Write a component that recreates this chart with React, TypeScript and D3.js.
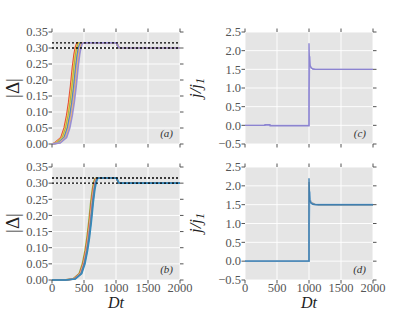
import React, { useEffect } from 'react';
import * as d3 from 'd3';

const W = 415;
const H = 312;

const xTicks = [0, 500, 1000, 1500, 2000];
const gapTicks = [0, 0.05, 0.1, 0.15, 0.2, 0.25, 0.3, 0.35];
const currentTicks = [-0.5, 0, 0.5, 1.0, 1.5, 2.0, 2.5];
const gapLevels = [0.3, 0.316];

// |Δ| rise, read around each curve's midpoint (Dt offset, value)
const riseDt = [-400, -250, -150, -100, -60, -30, 0, 30, 55, 75, 95, 115];
const riseVal = [0, 0.003, 0.02, 0.05, 0.09, 0.13, 0.18, 0.24, 0.28, 0.302, 0.313, 0.316];
// plateau end and drop to the lower level
const tailDt = [1000, 1015, 1030, 1045, 1060, 2000];
const tailVal = [0.316, 0.313, 0.306, 0.301, 0.3, 0.3];

// midpoints of the ensemble curves
const midsA = [290, 305, 318, 330, 342, 354, 366, 378];
const colorsA = ['#E24A33', '#FBC15E', '#8EBA42', '#FBC15E', '#348ABD', '#988ED5', '#FBC15E', '#988ED5'];
const midsB = [575, 585, 593, 600, 607, 615];
const colorsB = ['#8EBA42', '#E24A33', '#FBC15E', '#988ED5', '#777777', '#348ABD'];

// j/j1 curves
const jMainDt = [0, 310, 312, 390, 392, 1000, 1000, 1003, 1007, 1012, 1020, 1035, 1060, 1100, 1200, 2000];
const jMainVal = [0, 0, 0.02, 0.02, -0.01, -0.01, 2.2, 1.95, 1.75, 1.64, 1.58, 1.54, 1.51, 1.5, 1.5, 1.5];
const jFlatVal = [0, 0, 0, 0, 0, 0, 2.2, 1.95, 1.75, 1.64, 1.58, 1.54, 1.51, 1.5, 1.5, 1.5];
const jSecDt = [0, 1000, 1002, 1010, 1014, 1020, 1035, 1060, 1100, 2000];
const jSecVal = [0, 0, 0.85, 1.6, 1.85, 1.6, 1.54, 1.51, 1.5, 1.5];
const jGrayDt = [0, 1000, 1001, 1010, 1030, 1100, 1150, 2000];
const jGrayVal = [0, 0, 2.1, 1.7, 1.56, 1.51, 1.48, 1.48];

type Pt = [number, number];

const zip = (a: number[], b: number[]): Pt[] => a.map((v, i) => [v, b[i]]);

const gapCurve = (mid: number): Pt[] => {
  const rise = zip(riseDt.map((d) => d + mid), riseVal).filter((p) => p[0] > 0);
  return [[0, 0] as Pt, ...rise, ...zip(tailDt, tailVal)];
};

const serif = "'Liberation Serif', serif";
const tickColor = '#555555';

type Curve = { pts: Pt[]; color: string; width?: number; opacity?: number };

type PanelProps = {
  x0: number;
  x1: number;
  y0: number;
  y1: number;
  yDomain: [number, number];
  yTicks: number[];
  fmt: (v: number) => string;
  xLabels: boolean;
  tag: string;
  curves: Curve[];
  dotted?: number[];
};

const Panel = ({ x0, x1, y0, y1, yDomain, yTicks, fmt, xLabels, tag, curves, dotted }: PanelProps) => {
  const x = d3.scaleLinear().domain([0, 2000]).range([x0, x1]);
  const y = d3.scaleLinear().domain(yDomain).range([y1, y0]);
  const line = d3
    .line<Pt>()
    .x((d) => x(d[0]))
    .y((d) => y(d[1]));
  const tl = 3.5;
  const txt = { fontFamily: serif, fill: tickColor, fontSize: '12.5px' };
  return (
    <g>
      <rect x={x0} y={y0} width={x1 - x0} height={y1 - y0} fill="#E5E5E5" />
      {xTicks.map((t) => (
        <line key={'gx' + t} x1={x(t)} x2={x(t)} y1={y0} y2={y1} stroke="#fff" strokeWidth={0.9} />
      ))}
      {yTicks.map((t) => (
        <line key={'gy' + t} x1={x0} x2={x1} y1={y(t)} y2={y(t)} stroke="#fff" strokeWidth={0.9} />
      ))}
      <clipPath id={`clip-${tag}`}>
        <rect x={x0} y={y0 - 1} width={x1 - x0} height={y1 - y0 + 2} />
      </clipPath>
      <g clipPath={`url(#clip-${tag})`}>
        {curves.map((c, i) => (
          <path
            key={i}
            d={line(c.pts) || ''}
            fill="none"
            stroke={c.color}
            strokeWidth={c.width ?? 1.6}
            strokeOpacity={c.opacity ?? 1}
          />
        ))}
      </g>
      {(dotted || []).map((v) => (
        <line
          key={'d' + v}
          x1={x0}
          x2={x1}
          y1={y(v)}
          y2={y(v)}
          stroke="#000"
          strokeWidth={1.3}
          strokeDasharray="2,2"
        />
      ))}
      {xTicks.map((t) => (
        <g key={'tx' + t}>
          <line x1={x(t)} x2={x(t)} y1={y0} y2={y0 - tl} stroke={tickColor} />
          <line x1={x(t)} x2={x(t)} y1={y1} y2={y1 + tl} stroke={tickColor} />
          {xLabels && (
            <text x={x(t)} y={y1 + 11.5} textAnchor="middle" style={txt}>
              {t}
            </text>
          )}
        </g>
      ))}
      {yTicks.map((t) => (
        <g key={'ty' + t}>
          <line x1={x0} x2={x0 - tl} y1={y(t)} y2={y(t)} stroke={tickColor} />
          <line x1={x1} x2={x1 + tl} y1={y(t)} y2={y(t)} stroke={tickColor} />
          <text x={x0 - 4} y={y(t) + 4.3} textAnchor="end" style={txt}>
            {fmt(t)}
          </text>
        </g>
      ))}
      <text
        x={x1 - 7}
        y={y1 - 7}
        textAnchor="end"
        style={{ fontFamily: serif, fontStyle: 'italic', fontSize: '11px', fill: '#333' }}
      >
        ({tag})
      </text>
    </g>
  );
};

const fmtGap = d3.format('.2f');
const fmtJ = (v: number) => d3.format('.1f')(v).replace('-', '\u2212');

const App = () => {
  useEffect(() => {
    document.body.style.margin = '0';
  }, []);

  const curvesA: Curve[] = midsA.map((m, i) => ({ pts: gapCurve(m), color: colorsA[i] }));
  const curvesB: Curve[] = midsB.map((m, i) => ({ pts: gapCurve(m), color: colorsB[i] }));

  const curvesC: Curve[] = [
    { pts: zip(jSecDt, jSecVal), color: '#A9A4E0', width: 1.3 },
    { pts: zip(jMainDt, jMainVal), color: '#8C84D0', width: 1.4 },
  ];
  const curvesD: Curve[] = [
    { pts: zip(jGrayDt, jGrayVal), color: '#8A8A8A', width: 1.4 },
    { pts: zip(jSecDt, jSecVal), color: '#8FB9DA', width: 1.6 },
    { pts: zip(jMainDt, jFlatVal), color: '#3F7FB0', width: 1.4 },
  ];

  const big = { fontFamily: serif, fill: '#222', fontSize: '19px' };
  const bigIt = { ...big, fontStyle: 'italic', fontSize: '17px' };

  return (
    <svg width={W} height={H} style={{ position: 'absolute', left: 0, top: 0, background: '#fff' }}>
      <Panel x0={52} x1={180} y0={32} y1={144} yDomain={[0, 0.35]} yTicks={gapTicks} fmt={fmtGap} xLabels={false} tag="a" curves={curvesA} dotted={gapLevels} />
      <Panel x0={245} x1={373} y0={32} y1={144} yDomain={[-0.5, 2.5]} yTicks={currentTicks} fmt={fmtJ} xLabels={false} tag="c" curves={curvesC} />
      <Panel x0={52} x1={180} y0={167} y1={280} yDomain={[0, 0.35]} yTicks={gapTicks} fmt={fmtGap} xLabels={true} tag="b" curves={curvesB} dotted={gapLevels} />
      <Panel x0={245} x1={373} y0={167} y1={280} yDomain={[-0.5, 2.5]} yTicks={currentTicks} fmt={fmtJ} xLabels={true} tag="d" curves={curvesD} />

      <text transform="translate(19,88) rotate(-90)" textAnchor="middle" style={big}>|Δ|</text>
      <text transform="translate(19,223) rotate(-90)" textAnchor="middle" style={big}>|Δ|</text>
      <text transform="translate(201,88) rotate(-90)" textAnchor="middle" style={bigIt}>
        j/j<tspan style={{ fontSize: '12px' }} dy={3}>1</tspan>
      </text>
      <text transform="translate(201,223) rotate(-90)" textAnchor="middle" style={bigIt}>
        j/j<tspan style={{ fontSize: '12px' }} dy={3}>1</tspan>
      </text>
      <text x={116} y={308} textAnchor="middle" style={{ ...big, fontStyle: 'italic', fontSize: '16px' }}>Dt</text>
      <text x={309} y={308} textAnchor="middle" style={{ ...big, fontStyle: 'italic', fontSize: '16px' }}>Dt</text>
    </svg>
  );
};

export default App;
